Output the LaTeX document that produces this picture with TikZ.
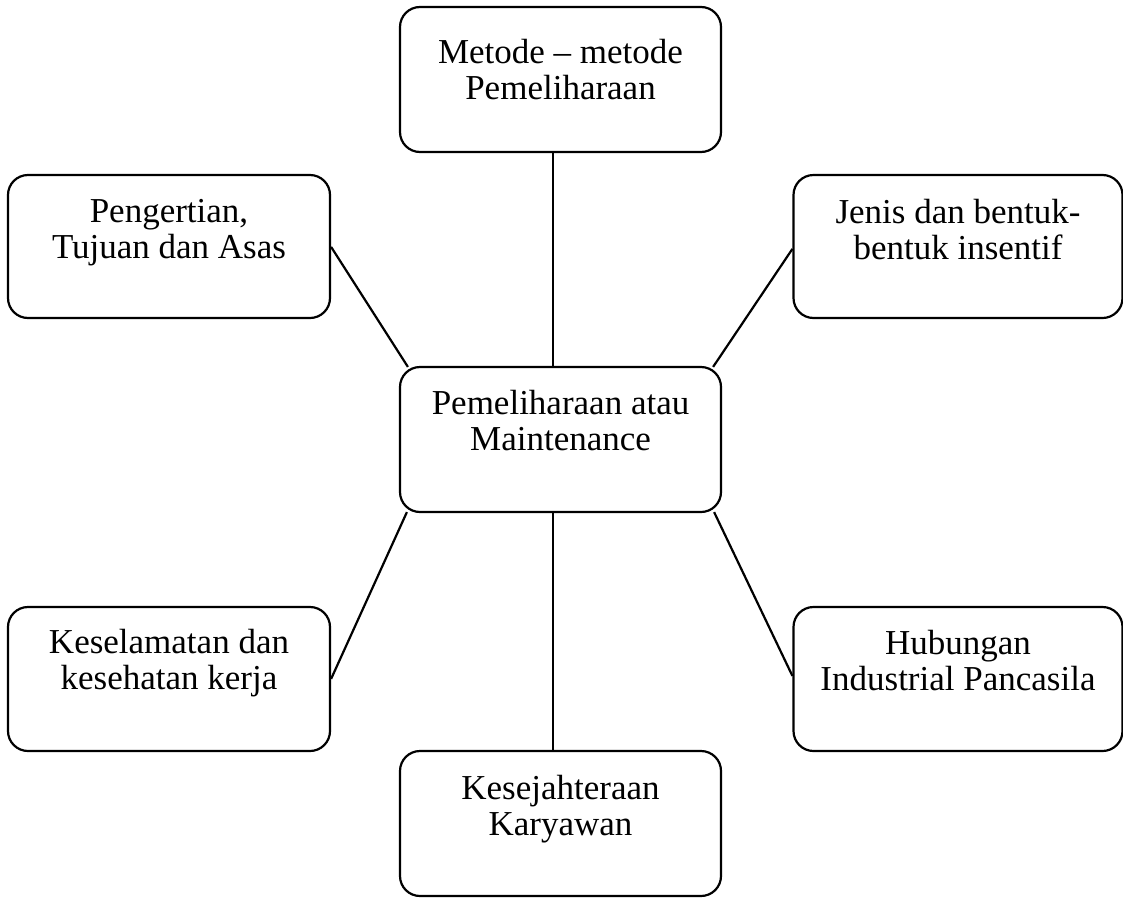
\documentclass[tikz,border=0pt]{standalone}
\usepackage{fontspec}
\setmainfont{Liberation Serif}
\usepackage{tikz}
\usetikzlibrary{calc,positioning}

\begin{document}
\begin{tikzpicture}[x=1pt, y=-1pt, line width=2.2pt,
  box/.style={draw, rounded corners=20pt, inner sep=0pt},
  txt/.style={anchor=base, align=center, inner sep=0pt,
    font=\fontsize{35}{36}\selectfont}]
\useasboundingbox (0,0) rectangle (1123,897);
% boxes
\node[box, minimum width=321pt, minimum height=145pt] (mtd) at (560.5,79.5) {};
\node[box, minimum width=322pt, minimum height=143pt] (pgr) at (169,246.5) {};
\node[box, minimum width=329pt, minimum height=143pt] (jns) at (958,246.5) {};
\node[box, minimum width=321pt, minimum height=145pt] (ctr) at (560.5,439.5) {};
\node[box, minimum width=322pt, minimum height=144pt] (kk) at (169,679) {};
\node[box, minimum width=329pt, minimum height=144pt] (hip) at (958,679) {};
\node[box, minimum width=321pt, minimum height=145pt] (ksj) at (560.5,823.5) {};
% texts (base = second line)
\node[txt] (mtdt) at ($(mtd.north)+(0,94)$) {Metode – metode\\Pemeliharaan};
\node[txt] (pgrt) at ($(pgr.north)+(0,85)$) {Pengertian,\\Tujuan dan Asas};
\node[txt] (jnst) at ($(jns.north)+(0,86)$) {Jenis dan bentuk-\\bentuk insentif};
\node[txt] (ctrt) at ($(ctr.north)+(0,85)$) {Pemeliharaan atau\\Maintenance};
\node[txt] (kkt) at ($(kk.north)+(0,84)$) {Keselamatan dan\\kesehatan kerja};
\node[txt] (hipt) at ($(hip.north)+(0,85)$) {Hubungan\\Industrial Pancasila};
\node[txt] (ksjt) at ($(ksj.north)+(0,86)$) {Kesejahteraan\\Karyawan};
% connectors
\draw ($(mtd.south)+(-7.5,0)$) -- ($(ctr.north)+(-7.5,0)$);
\draw ($(ctr.south)+(-7.5,0)$) -- ($(ksj.north)+(-7.5,0)$);
\draw ($(pgr.north east)+(0,73)$) -- ($(ctr.north west)+(9,1)$);
\draw ($(jns.north west)+(0,75)$) -- ($(ctr.north east)+(-9,1)$);
\draw ($(kk.north east)+(0,73)$) -- ($(ctr.south west)+(8,-1)$);
\draw ($(hip.north west)+(0,70)$) -- ($(ctr.south east)+(-8,-1)$);
\end{tikzpicture}
\end{document}
